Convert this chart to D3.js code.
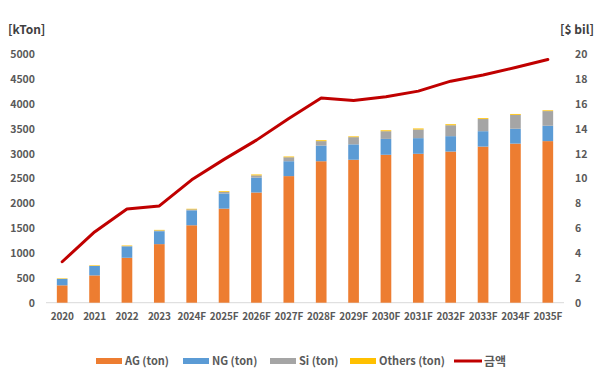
<!DOCTYPE html>
<html><head><meta charset="utf-8">
<script src="https://cdn.jsdelivr.net/npm/d3@7"></script>
<style>body{margin:0;background:#fff}svg{display:block}</style>
</head><body>
<svg id="c" width="600" height="378"></svg>
<script>
const categories = ["2020","2021","2022","2023","2024F","2025F","2026F","2027F","2028F","2029F","2030F","2031F","2032F","2033F","2034F","2035F"];
const agTon     = [350, 550, 905, 1180, 1560, 1895, 2220, 2550, 2850, 2880, 2980, 3000, 3045, 3145, 3205, 3255];
const ngTon     = [130, 190, 230, 260, 300, 305, 300, 300, 315, 310, 320, 315, 310, 310, 300, 310];
const siTon     = [0, 0, 5, 15, 20, 30, 45, 80, 90, 145, 155, 175, 220, 245, 280, 295];
const othersTon = [10, 12, 12, 12, 12, 15, 18, 15, 18, 15, 18, 20, 20, 17, 17, 15];
const amount    = [3.3, 5.7, 7.55, 7.8, 9.9, 11.55, 13.1, 14.85, 16.5, 16.3, 16.6, 17.05, 17.85, 18.35, 18.95, 19.6];
const leftTicks = [0,500,1000,1500,2000,2500,3000,3500,4000,4500,5000];
const rightTicks = [0,2,4,6,8,10,12,14,16,18,20];
const seriesNames = ["AG (ton)","NG (ton)","Si (ton)","Others (ton)"];
const lineName = "금액";
const colors = ["#ED7D31","#5B9BD5","#A5A5A5","#FFC000"];
const lineColor = "#C00000";

const svg = d3.select("#c");
const font = "'Noto Sans CJK KR','Noto Sans',sans-serif";
const textColor = "#595959";
const x0 = 46, x1 = 564, yTop = 54.5, yBot = 302.7;

const x = d3.scaleBand().domain(categories).range([x0, x1]).paddingInner(0.67).paddingOuter(0.335);
const yL = d3.scaleLinear().domain([0,5000]).range([yBot, yTop]);
const yR = d3.scaleLinear().domain([0,20]).range([yBot, yTop]);

const rows = categories.map((c,i)=>({cat:c, ag:agTon[i], ng:ngTon[i], si:siTon[i], ot:othersTon[i]}));
const stack = d3.stack().keys(["ag","ng","si","ot"])(rows);

// baseline
svg.append("line").attr("x1",x0).attr("x2",x1).attr("y1",yBot).attr("y2",yBot)
  .attr("stroke","#D9D9D9").attr("stroke-width",1);

// bars
stack.forEach((s,k)=>{
  svg.append("g").selectAll("rect").data(s).join("rect")
    .attr("x",d=>x(d.data.cat))
    .attr("width",x.bandwidth())
    .attr("y",d=>yL(d[1]))
    .attr("height",d=>Math.max(0,yL(d[0])-yL(d[1])))
    .attr("fill",colors[k]);
});

// line
const line = d3.line().x((d,i)=>x(categories[i])+x.bandwidth()/2).y(d=>yR(d));
svg.append("path").datum(amount).attr("d",line).attr("fill","none")
  .attr("stroke",lineColor).attr("stroke-width",3).attr("stroke-linejoin","round").attr("stroke-linecap","round");

// left axis
const axL = d3.axisLeft(yL).tickValues(leftTicks).tickFormat(d3.format("d")).tickSize(0).tickPadding(0);
const gL = svg.append("g").attr("transform","translate(35,0)").call(axL);
gL.select(".domain").remove();
gL.selectAll("text").attr("font-family",font).attr("font-size",10.5).attr("font-weight","bold").attr("fill",textColor);

// right axis
const axR = d3.axisRight(yR).tickValues(rightTicks).tickSize(0).tickPadding(0);
const gR = svg.append("g").attr("transform","translate(575,0)").call(axR);
gR.select(".domain").remove();
gR.selectAll("text").attr("font-family",font).attr("font-size",10.5).attr("font-weight","bold").attr("fill",textColor);

// x axis
const axX = d3.axisBottom(x).tickSize(0).tickPadding(0);
const gX = svg.append("g").attr("transform",`translate(0,${yBot+10})`).call(axX);
gX.select(".domain").remove();
gX.selectAll("text").attr("font-family",font).attr("font-size",10).attr("font-weight","bold").attr("fill",textColor).attr("letter-spacing","-0.2");

// axis titles
svg.append("text").attr("x",8).attr("y",34).text("[kTon]")
  .attr("font-family",font).attr("font-size",12).attr("font-weight","bold").attr("fill","#404040");
svg.append("text").attr("x",594).attr("y",34).attr("text-anchor","end").text("[$ bil]")
  .attr("font-family",font).attr("font-size",12).attr("font-weight","bold").attr("fill","#404040");

// legend
const legX = [96,183,270,350];
const lg = svg.append("g");
seriesNames.forEach((n,i)=>{
  lg.append("rect").attr("x",legX[i]).attr("y",358).attr("width",26).attr("height",6).attr("fill",colors[i]);
  lg.append("text").attr("x",legX[i]+29).attr("y",365).text(n)
    .attr("font-family",font).attr("font-size",11).attr("font-weight","bold").attr("fill",textColor);
});
lg.append("line").attr("x1",454).attr("x2",482).attr("y1",361).attr("y2",361).attr("stroke",lineColor).attr("stroke-width",3);
lg.append("text").attr("x",484).attr("y",366).text(lineName)
  .attr("font-family",font).attr("font-size",12).attr("font-weight","bold").attr("fill",textColor);
</script>
</body></html>
